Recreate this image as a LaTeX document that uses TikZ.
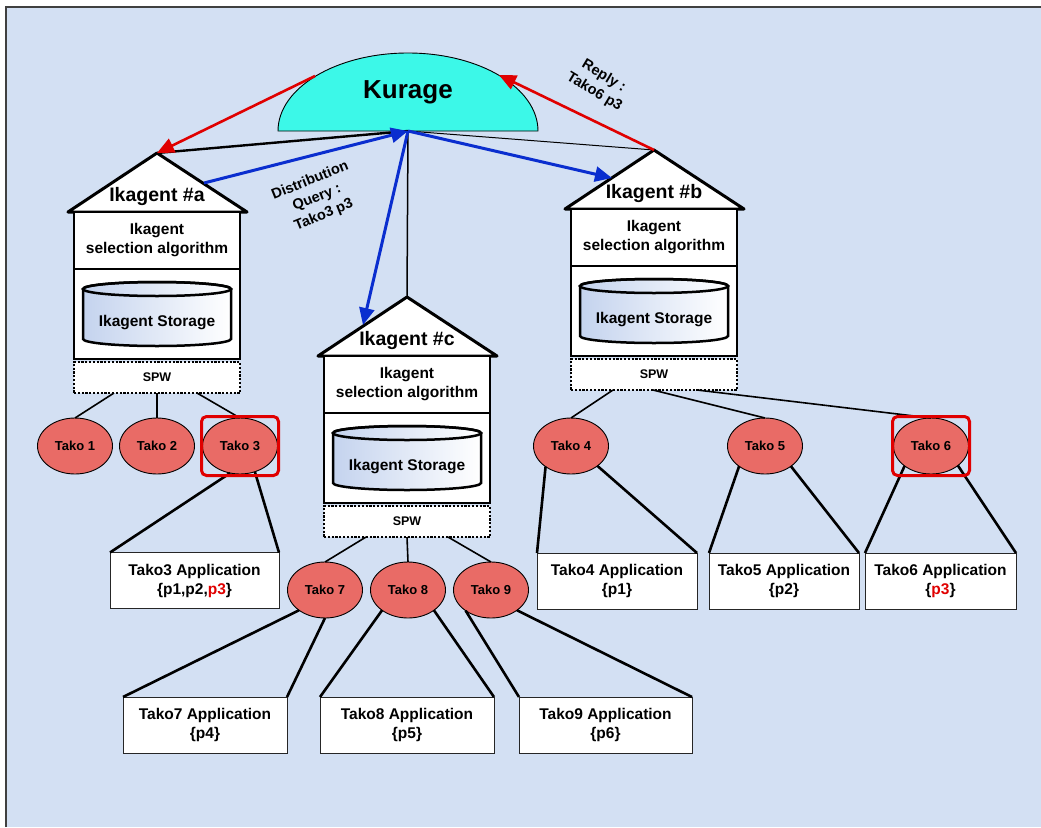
\documentclass[tikz,border=0pt]{standalone}
\usepackage{fontspec}
\setmainfont{Liberation Sans}
\usetikzlibrary{arrows.meta,shapes.geometric}

\definecolor{paper}{HTML}{D3E0F3}
\definecolor{domecyan}{HTML}{3CF8E8}
\definecolor{takored}{HTML}{E96B66}
\definecolor{hotred}{HTML}{E00000}
\definecolor{qblue}{HTML}{0A2ECF}
\definecolor{cylblue}{HTML}{C4D3EE}

\newcommand\fsmain{\bfseries\fontsize{15.5}{19}\selectfont}
\newcommand\fsroof{\bfseries\fontsize{19.5}{22}\selectfont}
\newcommand\fstako{\bfseries\fontsize{13}{15}\selectfont}
\newcommand\fsspw{\bfseries\fontsize{12.5}{14}\selectfont}
\newcommand\fsmsg{\bfseries\fontsize{14.5}{18.3}\selectfont}

\tikzset{
  roofpoly/.style={draw, fill=white, line width=3pt, line join=round},
  partbox/.style={draw, fill=white, line width=2.5pt, inner sep=0pt, outer sep=0pt,
    minimum width=166pt, align=center, font=\fsmain},
  spwbox/.style={draw, fill=white, line width=2.5pt, dash pattern=on 2.2pt off 1.6pt,
    minimum width=166pt, minimum height=31pt, inner sep=0pt, outer sep=0pt, font=\fsspw},
  cylpath/.style={draw, line width=2.5pt, left color=cylblue, right color=white},
  tako/.style={ellipse, draw, line width=0.9pt, fill=takored, minimum width=75pt,
    minimum height=56pt, inner sep=0pt, outer sep=0pt, font=\fstako},
  appbox/.style={draw=black!85, fill=white, line width=1pt, inner sep=0pt, outer sep=0pt,
    minimum height=56pt, align=center, font=\fsmain},
  hlbox/.style={draw=hotred, line width=3pt, rounded corners=5pt, minimum width=77pt,
    minimum height=59pt, inner sep=0pt},
  link/.style={line width=1.6pt},
  leg/.style={line width=2.6pt},
  bluearrow/.style={draw=qblue, line width=3pt, -{Triangle[length=17pt,width=15pt]}},
  redarrow/.style={draw=hotred, line width=2.6pt, -{Triangle[length=17pt,width=15pt]}},
  msg/.style={align=center, font=\fsmsg, inner sep=0pt},
}

% one Ikagent: roof, selection box, storage box with cylinder, SPW strip
% #1 id, #2 centre x, #3 apex y, #4 roof label
\newcommand\ikhouse[4]{%
  \coordinate (apex#1) at (#2,#3);
  \draw[roofpoly] (apex#1) -- (#2+90,#3+59) -- (#2-89,#3+59) -- cycle;
  \node (roof#1) at (#2,#3+43) {\fsroof #4};
  \node[partbox, minimum height=57pt] (sel#1) at (#2,#3+87.5) {Ikagent\\selection algorithm};
  \node[partbox, minimum height=90pt] (stor#1) at (#2,#3+161) {};
  \draw[cylpath] (#2-74,#3+136) -- (#2-74,#3+186)
    arc[start angle=180, end angle=360, x radius=74pt, y radius=7pt]
    -- (#2+74,#3+136)
    arc[start angle=0, end angle=180, x radius=74pt, y radius=7pt] -- cycle;
  \draw[line width=2.5pt] (#2,#3+136) ellipse[x radius=74pt, y radius=7pt];
  \node[font=\fsmain] (cyl#1) at (#2,#3+170) {Ikagent Storage};
  \node[spwbox] (spw#1) at (#2,#3+224.5) {SPW};
}

\begin{document}
\begin{tikzpicture}[x=1pt, y=-1pt, font=\bfseries]
\useasboundingbox (0,0) rectangle (1041,827);
\fill[paper] (6,7) rectangle (1041,827);
\draw[line width=1.3pt, black!75] (6,827) -- (6,7) -- (1041,7);

% Kurage dome
\draw[fill=domecyan, line width=0.9pt] (278,131)
  arc[start angle=180, end angle=0, x radius=130pt, y radius=78pt] -- cycle;
\node (kurage) at (408,92) {\fontsize{26}{30}\selectfont Kurage};
\coordinate (hub) at (408,131);
\coordinate (domeL) at (315,76);
\coordinate (domeR) at (499,75);

% tree links from Kurage to the Ikagents
\coordinate (apexa) at (157,153);
\coordinate (apexb) at (654,150);
\coordinate (apexc) at (407,297);
\draw[line width=2.4pt] (hub) -- (apexa);
\draw[line width=1pt] (hub) -- (apexb);
\draw[line width=1.5pt] (hub) -- (apexc);

% Ikagents
\ikhouse{a}{157}{153}{Ikagent \#a}
\ikhouse{b}{654}{150}{Ikagent \#b}
\ikhouse{c}{407}{297}{Ikagent \#c}

% Takos
\node[tako] (t1) at (75,446) {Tako 1};
\node[tako] (t2) at (157,446) {Tako 2};
\node[tako] (t3) at (240,446) {Tako 3};
\node[tako] (t4) at (571,446) {Tako 4};
\node[tako] (t5) at (765,446) {Tako 5};
\node[tako] (t6) at (931,446) {Tako 6};
\node[tako] (t7) at (325,590) {Tako 7};
\node[tako] (t8) at (408,590) {Tako 8};
\node[tako] (t9) at (491,590) {Tako 9};

% SPW to Tako links
\draw[link] ([xshift=-43pt]spwa.south) -- (t1.north);
\draw[link] (spwa.south) -- (t2.north);
\draw[link] ([xshift=40pt]spwa.south) -- (t3.north);
\draw[link] ([xshift=-41pt]spwb.south) -- (t4.north);
\draw[link] ([xshift=-1pt]spwb.south) -- (t5.north);
\draw[link] ([xshift=43pt]spwb.south) -- (t6.north);
\draw[link] ([xshift=-41pt]spwc.south) -- (t7.north);
\draw[link] (spwc.south) -- (t8.north);
\draw[link] ([xshift=41pt]spwc.south) -- (t9.north);

% Applications
\node[appbox, minimum width=169pt] (app3) at (194.5,580.5) {Tako3 Application\\\{p1,p2,\textcolor{hotred}{p3}\}};
\node[appbox, minimum width=160pt] (app4) at (617,581) {Tako4 Application\\\{p1\}};
\node[appbox, minimum width=150pt] (app5) at (784,581) {Tako5 Application\\\{p2\}};
\node[appbox, minimum width=151pt] (app6) at (940.5,581) {Tako6 Application\\\{\textcolor{hotred}{p3}\}};
\node[appbox, minimum width=164pt] (app7) at (205,725) {Tako7 Application\\\{p4\}};
\node[appbox, minimum width=174pt] (app8) at (407,725) {Tako8 Application\\\{p5\}};
\node[appbox, minimum width=173pt] (app9) at (605.5,725) {Tako9 Application\\\{p6\}};

% Tako to Application legs
\draw[leg] (t3.250) -- (app3.north west);
\draw[leg] (t3.300) -- (app3.north east);
\draw[leg] (t4.219) -- (app4.north west);
\draw[leg] (t4.323) -- (app4.north east);
\draw[leg] (t5.218) -- (app5.north west);
\draw[leg] (t5.322) -- (app5.north east);
\draw[leg] (t6.217) -- (app6.north west);
\draw[leg] (t6.324) -- (app6.north east);
\draw[leg] (t7.218) -- (app7.north west);
\draw[leg] (t7.270) -- (app7.north east);
\draw[leg] (t8.218) -- (app8.north west);
\draw[leg] (t8.322) -- (app8.north east);
\draw[leg] (t9.219) -- (app9.north west);
\draw[leg] (t9.322) -- (app9.north east);

% highlighted Takos
\node[hlbox] (hl3) at (t3) {};
\node[hlbox] (hl6) at (t6) {};

% query distribution and reply
\coordinate (qa) at (204,183);
\coordinate (qb) at (612,178);
\coordinate (qc) at (363,325);
\draw[bluearrow] (qa) -- (hub);
\draw[bluearrow] (hub) -- (qb);
\draw[bluearrow] (hub) -- (qc);
\draw[redarrow] (domeL) -- (apexa);
\draw[redarrow] (apexb) -- (domeR);

\node[msg, rotate=22] (qlabel) at (317,198) {Distribution\\Query :\\Tako3 p3};
\node[msg, rotate=-31] (rlabel) at (599,84) {Reply :\\Tako6 p3};
\end{tikzpicture}
\end{document}
